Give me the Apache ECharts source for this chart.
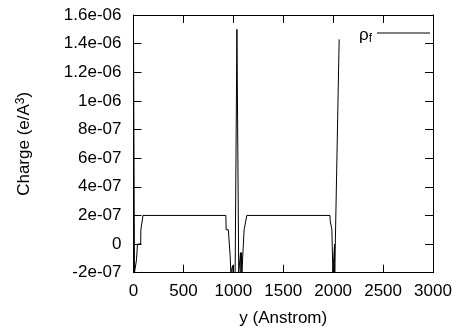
<!DOCTYPE html>
<html>
<head>
<meta charset="utf-8">
<script src="https://cdn.jsdelivr.net/npm/echarts@6/dist/echarts.min.js"></script>
<style>
  html, body { margin: 0; padding: 0; background: #ffffff; }
  #chart { width: 456px; height: 334px; }
</style>
</head>
<body>
<div id="chart"></div>
<script>
// Free charge density profile along y (Angstrom)
var positions = [0, 10, 28, 30, 38, 40, 72, 74, 93, 95,
  925, 928, 950, 968, 975, 990, 993, 996, 1018, 1036,
  1054, 1068, 1072, 1076, 1082, 1086, 1092, 1108, 1115, 1135,
  1968, 1970, 1985, 1987, 1997, 2012, 2014, 2016, 2030, 2060];
var rhoF = [1.47e-6, -2.0e-7, -2.0e-7, -1.1e-7, -1.1e-7, 0, 0, 1.0e-7, 1.0e-7, 2.0e-7,
  2.0e-7, 1.0e-7, 1.0e-7, -0.8e-7, -2.0e-7, -2.0e-7, -1.5e-7, -2.0e-7, -2.0e-7, 1.5e-6,
  -2.0e-7, -2.0e-7, -0.6e-7, -2.0e-7, -0.6e-7, -2.0e-7, -2.0e-7, 1.0e-7, 1.0e-7, 2.0e-7,
  2.0e-7, 1.65e-7, 1.65e-7, 1.0e-7, -2.0e-7, -2.0e-7, 0, -2.0e-7, -2.0e-7, 1.43e-6];
var yTickLabels = ['-2e-07', '0', '2e-07', '4e-07', '6e-07', '8e-07',
  '1e-06', '1.2e-06', '1.4e-06', '1.6e-06'];
var xTickLabels = ['0', '500', '1000', '1500', '2000', '2500', '3000'];

var points = positions.map(function (p, i) { return [p, rhoF[i]]; });

var FONT = 'Liberation Sans, Arial, sans-serif';
var black = '#000000';

function xAxisCfg(pos, showLabels) {
  return {
    type: 'value', position: pos, min: 0, max: 3000, interval: 500,
    axisLine: { show: true, onZero: false, lineStyle: { color: black, width: 1 } },
    axisTick: { show: true, inside: true, length: 8, lineStyle: { color: black } },
    axisLabel: {
      show: showLabels, color: black, fontFamily: FONT, fontSize: 17, margin: 10,
      formatter: function (v, idx) { return xTickLabels[idx]; }
    },
    splitLine: { show: false }
  };
}
function yAxisCfg(pos, showLabels) {
  return {
    type: 'value', position: pos, min: -2e-7, max: 1.6e-6, interval: 2e-7,
    axisLine: { show: true, onZero: false, lineStyle: { color: black, width: 1 } },
    axisTick: { show: true, inside: true, length: 8, lineStyle: { color: black } },
    axisLabel: {
      show: showLabels, color: black, fontFamily: FONT, fontSize: 17, margin: 12,
      formatter: function (v, idx) { return yTickLabels[idx]; }
    },
    splitLine: { show: false }
  };
}

var xBottom = xAxisCfg('bottom', true);
xBottom.name = 'y (Anstrom)';
xBottom.nameLocation = 'middle';
xBottom.nameGap = 37;
xBottom.nameTextStyle = { color: black, fontFamily: FONT, fontSize: 17 };

var yLeft = yAxisCfg('left', true);
yLeft.name = '{a|Charge (e/A}{s|3}{a|)}';
yLeft.nameLocation = 'middle';
yLeft.nameRotate = 90;
yLeft.nameGap = 99;
yLeft.nameTextStyle = {
  rich: {
    a: { color: black, fontFamily: FONT, fontSize: 17 },
    s: { color: black, fontFamily: FONT, fontSize: 12, verticalAlign: 'top', padding: [0, 0, 8, 0] }
  }
};

var chart = echarts.init(document.getElementById('chart'), null, { renderer: 'canvas' });
chart.setOption({
  backgroundColor: '#ffffff',
  animation: false,
  grid: { left: 133.5, right: 23, top: 15, bottom: 61.3, containLabel: false, outerBoundsMode: 'none' },
  legend: {
    right: 26, top: 27, align: 'right', padding: 0,
    icon: 'rect', itemWidth: 53, itemHeight: 1, itemGap: 8,
    textStyle: {
      rich: {
        r: { color: black, fontFamily: FONT, fontSize: 17, padding: [5, 0, 0, 0] },
        f: { color: black, fontFamily: FONT, fontSize: 12, verticalAlign: 'bottom', padding: [12, 0, 0, 0] }
      }
    },
    formatter: function () { return '{r|ρ}{f|f}'; },
    data: [{ name: 'rho_f', itemStyle: { color: black } }]
  },
  xAxis: [xBottom, xAxisCfg('top', false)],
  yAxis: [yLeft, yAxisCfg('right', false)],
  series: [{
    name: 'rho_f', type: 'line', data: points,
    symbol: 'none', lineStyle: { color: black, width: 1 }, itemStyle: { color: black },
    clip: true
  }]
});
</script>
</body>
</html>
